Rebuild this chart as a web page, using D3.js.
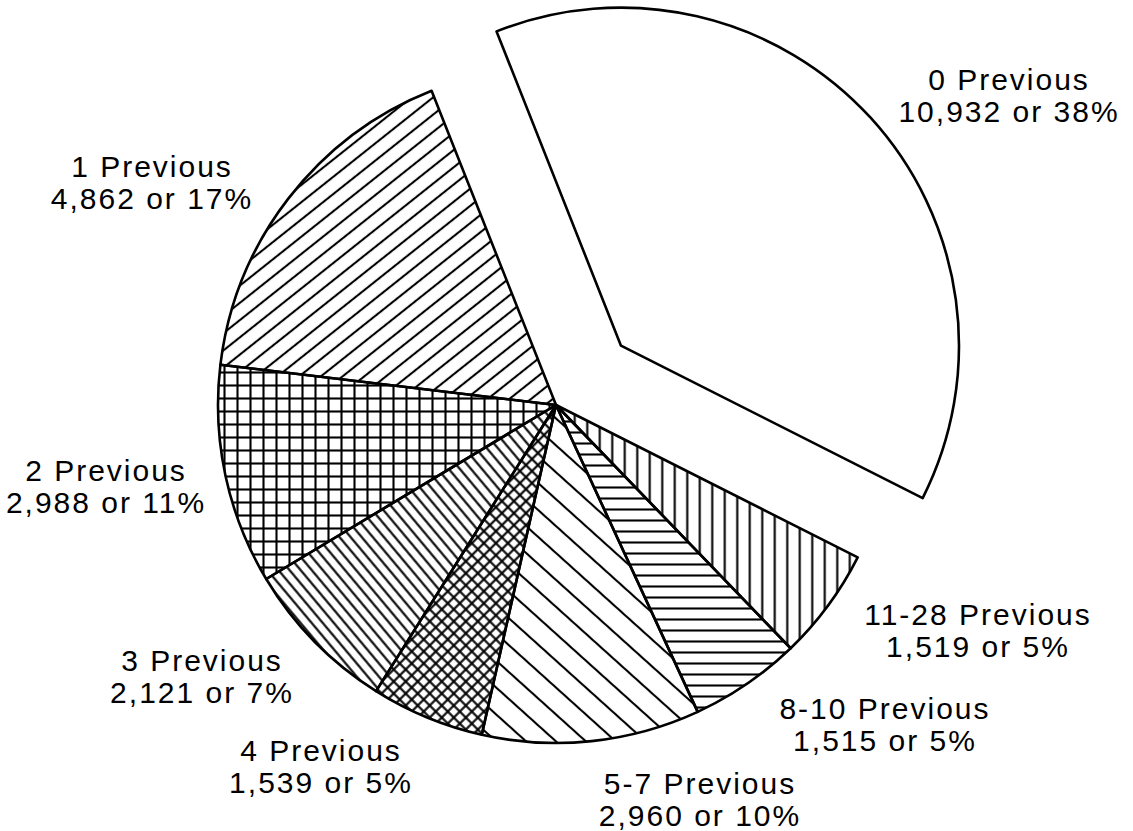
<!DOCTYPE html>
<html>
<head>
<meta charset="utf-8">
<script src="https://cdn.jsdelivr.net/npm/d3@7"></script>
<style>
  html, body { margin: 0; padding: 0; background: #fff; }
  #chart { width: 1133px; height: 831px; }
  text { font-family: "Liberation Sans", Arial, sans-serif; font-size: 30px; letter-spacing: 2px; fill: #000; }
</style>
</head>
<body>
<div id="chart"></div>
<script>
// slices in clockwise order, starting with the pulled-out one
var categories = ["0 Previous", "11-28 Previous", "8-10 Previous", "5-7 Previous", "4 Previous", "3 Previous", "2 Previous", "1 Previous"];
var counts = [10932, 1519, 1515, 2960, 1539, 2121, 2988, 4862];
var percents = [38, 5, 5, 10, 5, 7, 11, 17];
var fills = ["none", "vert", "horiz", "wideback", "cross", "back", "grid", "slash"];

// label anchors (center x, baseline of first line)
var labelPos = [[1009, 90], [978, 625], [885, 719], [700, 794], [321, 761], [202, 671], [106, 481], [152, 177]];

var width = 1133, height = 831;
var cx = 556, cy = 405, radius = 338, explode = 88;

var svg = d3.select("#chart").append("svg")
    .attr("width", width)
    .attr("height", height);

var defs = svg.append("defs");

// hatch patterns: a line (or two) in a tile, rotated
function hatch(id, size, angle, grid) {
  var p = defs.append("pattern")
      .attr("id", id)
      .attr("patternUnits", "userSpaceOnUse")
      .attr("width", size)
      .attr("height", size)
      .attr("patternTransform", "rotate(" + angle + ")");
  p.append("line")
      .attr("x1", -1).attr("x2", size + 1)
      .attr("y1", size / 2).attr("y2", size / 2)
      .attr("stroke", "#000").attr("stroke-width", 2.1);
  if (grid) {
    p.append("line")
        .attr("y1", -1).attr("y2", size + 1)
        .attr("x1", size / 2).attr("x2", size / 2)
        .attr("stroke", "#000").attr("stroke-width", 2.1);
  }
}
hatch("vert", 12.5, 90, false);
hatch("horiz", 11, 0, false);
hatch("wideback", 20, 42, false);
hatch("cross", 8.5, 45, true);
hatch("back", 8.5, 50, false);
hatch("grid", 13, 0, true);
hatch("slash", 13.5, -38.5, false);

var pie = d3.pie()
    .sort(null)
    .value(function(d) { return d; })
    .startAngle(-0.377)
    .endAngle(-0.377 + 2 * Math.PI);

var arc = d3.arc()
    .innerRadius(0)
    .outerRadius(radius);

var arcs = pie(counts);

var g = svg.append("g")
    .attr("transform", "translate(" + cx + "," + cy + ")");

g.selectAll("path")
    .data(arcs)
    .enter().append("path")
      .attr("d", arc)
      .attr("transform", function(d, i) {
        if (i != 0) return null;
        var a = (d.startAngle + d.endAngle) / 2;
        return "translate(" + (Math.sin(a) * explode) + "," + (-Math.cos(a) * explode) + ")";
      })
      .attr("fill", function(d, i) { return fills[i] == "none" ? "#fff" : "url(#" + fills[i] + ")"; })
      .attr("stroke", "#000")
      .attr("stroke-width", 2.6)
      .attr("stroke-linejoin", "round");

var fmt = d3.format(",");

var labels = svg.append("g").selectAll("text")
    .data(arcs)
    .enter().append("text")
      .attr("text-anchor", "middle")
      .attr("x", function(d, i) { return labelPos[i][0]; })
      .attr("y", function(d, i) { return labelPos[i][1]; });

labels.append("tspan")
    .text(function(d, i) { return categories[i]; });
labels.append("tspan")
    .attr("x", function(d, i) { return labelPos[i][0]; })
    .attr("dy", 32)
    .text(function(d, i) { return fmt(counts[i]) + " or " + percents[i] + "%"; });
</script>
</body>
</html>
